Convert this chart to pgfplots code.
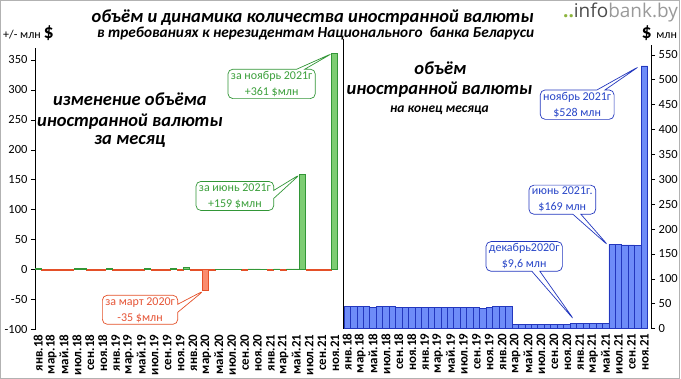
\documentclass[border=0pt]{standalone}
\usepackage{fontspec}
\setmainfont{Carlito}
\newfontfamily\logofont{Open Sans}
\usepackage{pgfplots}
\pgfplotsset{compat=1.18}
\usetikzlibrary{shapes.callouts}
\definecolor{gfill}{RGB}{125,205,115}
\definecolor{gedge}{RGB}{50,150,55}
\definecolor{rfill}{RGB}{250,140,110}
\definecolor{redge}{RGB}{228,80,40}
\definecolor{bfill}{RGB}{110,140,248}
\definecolor{bedge}{RGB}{35,55,190}
\definecolor{gtext}{RGB}{60,160,60}
\definecolor{rtext}{RGB}{230,85,55}
\definecolor{btext}{RGB}{40,70,200}
\definecolor{logogreen}{RGB}{140,180,60}
\begin{document}
\begin{tikzpicture}[x=1pt,y=1pt]
\path (0,0) rectangle (681,379);
\draw[gray!60, line width=1pt] (0.5,0.5) rectangle (680.5,378.5);
% titles
\node[font=\fontsize{18.5}{22}\selectfont\bfseries\itshape] at (313,361) {объём и динамика количества иностранной валюты};
\node[font=\fontsize{15.3}{18}\selectfont\bfseries\itshape] at (316,345) {в требованиях к нерезидентам Национального\ \ банка Беларуси};
\node[anchor=west, inner sep=0pt] at (3,346) {\fontsize{12}{14}\selectfont +/- млн \fontsize{20}{21}\selectfont\bfseries \$};
\node[anchor=east, inner sep=0pt] at (678,346) {\fontsize{20}{21}\selectfont\bfseries \$ \fontsize{12}{14}\selectfont\mdseries млн};
\node[anchor=east, inner sep=0pt, font=\logofont\fontsize{19}{22}\selectfont] at (679,366) {\textcolor{logogreen}{\textbf{..}}\textcolor{black!70}{info}\textcolor{black!40}{bank.by}};
% left panel text
\node[font=\fontsize{18.5}{22}\selectfont\bfseries\itshape] at (130,280) {изменение объёма};
\node[font=\fontsize{18.5}{22}\selectfont\bfseries\itshape] at (130,257) {иностранной валюты};
\node[font=\fontsize{18.5}{22}\selectfont\bfseries\itshape] at (130,237) {за месяц};
% right panel text
\node[font=\fontsize{18.5}{22}\selectfont\bfseries\itshape] at (441,311) {объём};
\node[font=\fontsize{18.5}{22}\selectfont\bfseries\itshape] at (440,289) {иностранной валюты};
\node[font=\fontsize{13.5}{16}\selectfont\bfseries\itshape] at (440,269) {на конец месяца};

\begin{axis}[
  at={(35pt,49pt)}, anchor=south west, scale only axis,
  width=303.5pt, height=282pt,
  xmin=-0.5, xmax=46.5, ymin=-100, ymax=370,
  axis y line*=left, axis x line*=bottom,
  x axis line style={draw=none},
  y axis line style={black, line width=0.8pt},
  ytick={-100,-50,...,350},
  xtick={0,2,...,46},
  xticklabels={янв.18,мар.18,май.18,июл.18,сен.18,ноя.18,янв.19,мар.19,май.19,июл.19,сен.19,ноя.19,янв.20,мар.20,май.20,июл.20,сен.20,ноя.20,янв.21,мар.21,май.21,июл.21,сен.21,ноя.21},
  xtick style={draw=none},
  ytick style={black, line width=0.6pt},
  tick align=outside, major tick length=4pt,
  xticklabel style={rotate=90, anchor=east, font=\fontsize{13}{14}\selectfont\bfseries, inner sep=1pt},
  yticklabel style={font=\fontsize{12.5}{14}\selectfont},
  /pgf/number format/assume math mode=true,
  clip=false,
]
\addplot[ybar, bar width=0.92, bar shift=0pt, fill=rfill, draw=redge, line width=0.8pt] coordinates {
(1,-1.2) (2,-1.1) (3,-1.2) (4,-1.0) (5,-1.2) (8,-1.2) (9,-1.1) (10,-1.0)
(12,-1.2) (13,-1.0) (14,-1.1) (15,-1.0) (16,-1.2) (18,-1.1) (19,-1.0) (20,-1.2)
(22,-1.1) (24,-1.2) (25,-1.1) (26,-35) (27,-0.8) (32,-1.0) (36,-1.1) (38,-1.0)
(42,-1.2) (43,-1.1) (44,-1.2) (45,-1.0)
};
\addplot[ybar, bar width=0.92, bar shift=0pt, fill=gfill, draw=gedge, line width=0.8pt] coordinates {
(0,1.6) (6,1.4) (7,1.4) (11,1.5) (17,1.3) (21,1.3) (23,3.5) (28,1.0) (29,1.0) (30,1.0) (31,1.0)
(33,1.2) (34,1.2) (35,1.0) (37,1.2) (39,1.2) (40,1.1) (41,159) (46,361)
};
\node[rectangle callout, rounded corners=5pt, draw=gedge, fill=white, text=gtext, align=center,
  font=\fontsize{12}{16}\selectfont, inner xsep=3pt, inner ysep=2pt, line width=0.7pt,
  callout absolute pointer={(axis cs:45.6,361)}, callout pointer width=8pt]
  at (axis cs:36.2,310) {за ноябрь 2021г\\+361 \$млн};
\node[rectangle callout, rounded corners=5pt, draw=gedge, fill=white, text=gtext, align=center,
  font=\fontsize{12}{16}\selectfont, inner xsep=3pt, inner ysep=2pt, line width=0.7pt,
  callout absolute pointer={(axis cs:40.6,159)}, callout pointer width=8pt]
  at (axis cs:30.5,123) {за июнь 2021г\\+159 \$млн};
\node[rectangle callout, rounded corners=5pt, draw=redge, fill=white, text=rtext, align=center,
  font=\fontsize{12}{16}\selectfont, inner xsep=3pt, inner ysep=2pt, line width=0.7pt,
  callout absolute pointer={(axis cs:25.7,-35)}, callout pointer width=8pt]
  at (axis cs:15.8,-67) {за март 2020г\\-35 \$млн};
\end{axis}

\begin{axis}[
  at={(344pt,50pt)}, anchor=south west, scale only axis,
  width=308pt, height=284pt,
  xmin=-0.55, xmax=47.05, ymin=0, ymax=570,
  axis y line*=right, axis x line*=bottom,
  x axis line style={draw=none},
  y axis line style={black, line width=0.8pt},
  ytick={0,50,...,550},
  xtick={0,2,...,46},
  xticklabels={янв.18,мар.18,май.18,июл.18,сен.18,ноя.18,янв.19,мар.19,май.19,июл.19,сен.19,ноя.19,янв.20,мар.20,май.20,июл.20,сен.20,ноя.20,янв.21,мар.21,май.21,июл.21,сен.21,ноя.21},
  xtick style={draw=none},
  ytick style={black, line width=0.6pt},
  tick align=outside, major tick length=4pt,
  xticklabel style={rotate=90, anchor=east, font=\fontsize{13}{14}\selectfont\bfseries, inner sep=1pt},
  yticklabel style={font=\fontsize{12.5}{14}\selectfont},
  /pgf/number format/assume math mode=true,
  clip=false,
]
\addplot[ybar, bar width=1, bar shift=0pt, fill=bfill, draw=bedge, line width=0.6pt] coordinates {
(0,45) (1,45) (2,44) (3,44) (4,43) (5,44) (6,44) (7,44) (8,43) (9,43) (10,43) (11,43)
(12,43) (13,43) (14,43) (15,43) (16,43) (17,43) (18,43) (19,42) (20,42) (21,41) (22,42) (23,44)
(24,44) (25,44) (26,9) (27,9) (28,9) (29,9) (30,9) (31,9) (32,9) (33,9) (34,9) (35,9.6)
(36,9.6) (37,9.6) (38,9.6) (39,9.6) (40,9.6) (41,169) (42,169) (43,168) (44,168) (45,167) (46,528)
};
\draw[black, line width=1.6pt] (rel axis cs:0,0) -- (rel axis cs:0,1.02);
\node[rectangle callout, rounded corners=5pt, draw=bedge, fill=white, text=btext, align=center,
  font=\fontsize{12}{16}\selectfont, inner xsep=3pt, inner ysep=2pt, line width=0.7pt,
  callout absolute pointer={(axis cs:45.2,527)}, callout pointer width=8pt]
  at (axis cs:35.6,450) {ноябрь 2021г\\\$528 млн};
\node[rectangle callout, rounded corners=5pt, draw=bedge, fill=white, text=btext, align=center,
  font=\fontsize{12}{16}\selectfont, inner xsep=3pt, inner ysep=2pt, line width=0.7pt,
  callout absolute pointer={(axis cs:40.4,167)}, callout pointer width=8pt]
  at (axis cs:33.3,259) {июнь 2021г.\\\$169 млн};
\node[rectangle callout, rounded corners=5pt, draw=bedge, fill=white, text=btext, align=center,
  font=\fontsize{12}{16}\selectfont, inner xsep=3pt, inner ysep=2pt, line width=0.7pt,
  callout absolute pointer={(axis cs:35.1,18)}, callout pointer width=8pt]
  at (axis cs:27.4,145) {декабрь2020г\\\$9,6 млн};
\end{axis}
\end{tikzpicture}
\end{document}
